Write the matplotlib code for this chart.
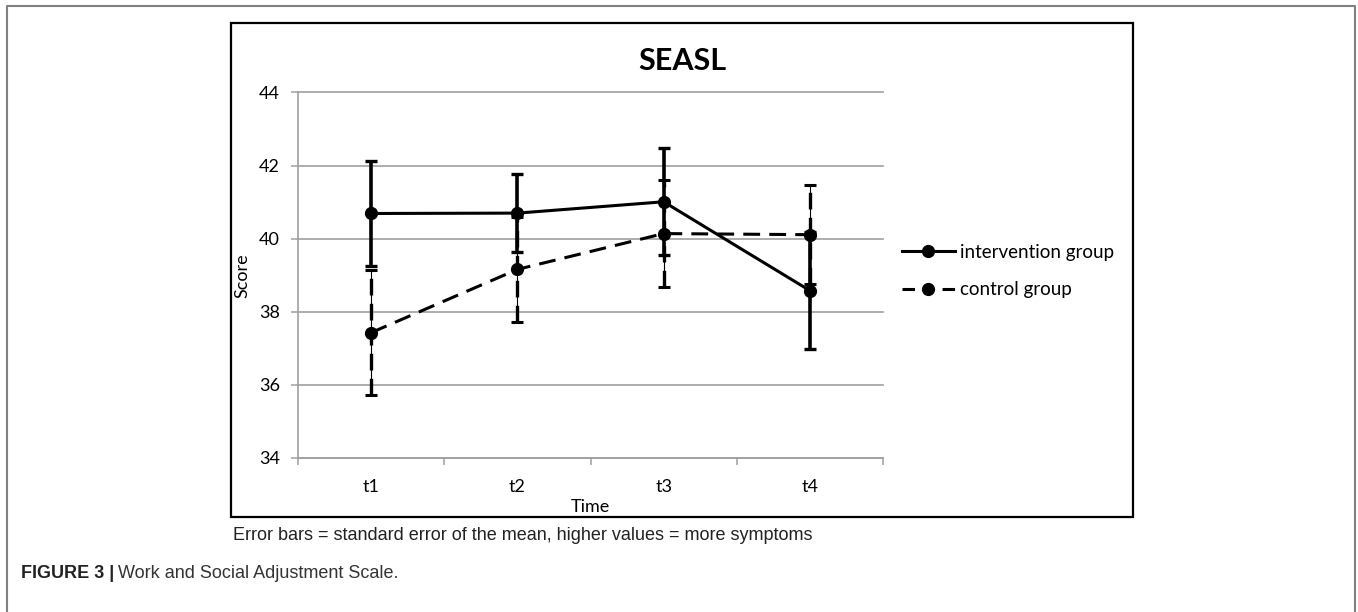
import matplotlib
matplotlib.use("Agg")
import matplotlib.pyplot as plt
from matplotlib.patches import Rectangle
from matplotlib.lines import Line2D

# ---- data ----
categories = ["t1", "t2", "t3", "t4"]
intervention_mean = [40.69, 40.70, 41.01, 38.58]
intervention_se = [1.43, 1.07, 1.46, 1.59]
control_mean = [37.43, 39.16, 40.14, 40.11]
control_se = [1.71, 1.44, 1.46, 1.36]
series_labels = ["intervention group", "control group"]
yticks = [34, 36, 38, 40, 42, 44]

W, H = 1358, 612
fig = plt.figure(figsize=(W / 100, H / 100), dpi=100)
fig.patch.set_facecolor("white")

chart_font = ["Lato", "DejaVu Sans"]
cap_font = ["Liberation Sans Narrow", "Liberation Sans", "DejaVu Sans"]

# plot area
px_l, px_r, px_t, px_b = 298, 883, 92.5, 458
ax = fig.add_axes([px_l / W, 1 - px_b / H, (px_r - px_l) / W, (px_b - px_t) / H])

x = list(range(1, len(categories) + 1))
grid_c = "#a0a0a0"

ax.set_xlim(0.5, len(categories) + 0.5)
ax.set_ylim(34, 44)
ax.set_yticks(yticks)
ax.set_yticklabels([str(v) for v in yticks], fontfamily=chart_font, fontsize=13)
ax.set_xticks([i + 0.5 for i in range(0, len(categories) + 1)])
ax.set_xticklabels([])
ax.set_xticks(x, minor=True)
ax.set_xticklabels(categories, minor=True, fontfamily=chart_font, fontsize=13)
ax.tick_params(axis="x", which="major", length=5, width=1.1, color=grid_c, direction="out")
ax.tick_params(axis="x", which="minor", length=0, pad=15)
ax.tick_params(axis="y", length=5, width=1.1, color=grid_c, direction="out", pad=8)
ax.yaxis.grid(True, color=grid_c, lw=1.2)
for gl in ax.get_ygridlines():
    gl.set_clip_on(False)
ax.set_axisbelow(True)
for s in ["top", "right"]:
    ax.spines[s].set_visible(False)
for s in ["left", "bottom"]:
    ax.spines[s].set_color(grid_c)
    ax.spines[s].set_linewidth(1.2)

# error bars - intervention (solid, thick)
ax.errorbar(x, intervention_mean, yerr=intervention_se, fmt="none", ecolor="black",
            elinewidth=2.6, capsize=4, capthick=2.4, zorder=3)
# error bars - control (thin solid under thick dashed)
ax.errorbar(x, control_mean, yerr=control_se, fmt="none", ecolor="black",
            elinewidth=0.8, capsize=4, capthick=2.2, zorder=3)
eb = ax.errorbar(x, control_mean, yerr=control_se, fmt="none", ecolor="black",
                 elinewidth=2.4, capsize=0, zorder=3)
eb[2][0].set_linestyle((0, (5, 2.5)))

# lines
ax.plot(x, intervention_mean, color="black", lw=2.2, marker="o", ms=8.5, zorder=4)
ax.plot(x, control_mean, color="black", lw=2.2, ls=(0, (5.5, 3)), marker="o", ms=8.5, zorder=4)

ax.set_xlabel("Time", fontfamily=chart_font, fontsize=13, labelpad=3)
ax.set_ylabel("Score", fontfamily=chart_font, fontsize=13, labelpad=6)

handles = [
    Line2D([], [], color="black", lw=2.2, marker="o", ms=8.5),
    Line2D([], [], color="black", lw=2.2, ls=(0, (4.1, 9.0)), marker="o", ms=8.5),
]
fig.legend(handles, series_labels, loc="center left", bbox_to_anchor=(902 / W, 1 - 271 / H),
           frameon=False, prop={"family": chart_font, "size": 13.5},
           handlelength=2.8, handletextpad=0.3, labelspacing=1.1,
           borderpad=0, borderaxespad=0)

# title
fig.text(682 / W, 1 - 60.5 / H, "SEASL", ha="center", va="center",
         fontfamily=chart_font, fontweight="bold", fontsize=22)

# chart box
fig.add_artist(Rectangle((231 / W, 1 - 517 / H), (1133 - 231) / W, (517 - 23) / H,
                         transform=fig.transFigure, fill=False, lw=1.6, edgecolor="black"))
# outer frame (open at bottom)
fig.add_artist(Line2D([7 / W, 7 / W, 1355 / W, 1355 / W], [0, 1 - 6 / H, 1 - 6 / H, 0],
                      transform=fig.transFigure, color="#808080", lw=1.5))

# captions
fig.text(233 / W, 1 - 536 / H, "Error bars = standard error of the mean, higher values = more symptoms",
         ha="left", va="center", fontfamily=cap_font, fontsize=13, color="#222222")
t1 = fig.text(21 / W, 1 - 573 / H, "FIGURE 3 |", ha="left", va="center",
              fontfamily=cap_font, fontweight="bold", fontsize=13, color="#222222")
fig.canvas.draw()
bb = t1.get_window_extent()
fig.text(bb.x1 / W + 4 / W, 1 - 573 / H, "Work and Social Adjustment Scale.", ha="left", va="center",
         fontfamily=cap_font, fontsize=13, color="#333333")

fig.savefig("out.png", dpi=100)
